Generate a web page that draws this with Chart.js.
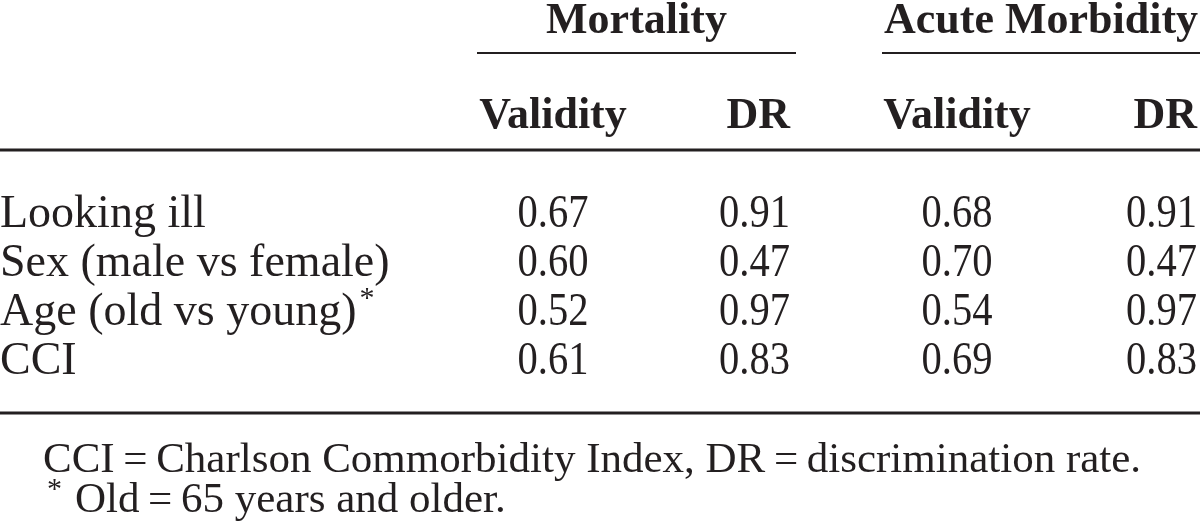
<!DOCTYPE html>
<html>
<head>
<meta charset="utf-8">
<script src="https://cdn.jsdelivr.net/npm/chart.js@4"></script>
<style>
  html, body { margin: 0; padding: 0; background: #fff; }
  #wrap { width: 1200px; height: 531px; position: relative; }
</style>
</head>
<body>
<div id="wrap"><canvas id="table-chart"></canvas></div>
<script>
// table content
const groupHeaders = ['Mortality', 'Acute Morbidity'];
const columnHeaders = ['Validity', 'DR', 'Validity', 'DR'];
const rowLabels = ['Looking ill', 'Sex (male vs female)', 'Age (old vs young)', 'CCI'];
const rowMarks = ['', '', '*', ''];
const mortalityValidity = [0.67, 0.60, 0.52, 0.61];
const mortalityDR = [0.91, 0.47, 0.97, 0.83];
const acuteValidity = [0.68, 0.70, 0.54, 0.69];
const acuteDR = [0.91, 0.47, 0.97, 0.83];
const footnotes = [
    { mark: '', text: 'CCI\u2009=\u2009Charlson Commorbidity Index, DR\u2009=\u2009discrimination rate.' },
    { mark: '*', text: 'Old\u2009=\u200965 years and older.' },
];

const ink = '#231f20';
const serif = '"Liberation Serif", "Times New Roman", serif';

// layout in scale units (x 0..1200, y 0..531 top-down)
const cols = [
    { x: 553, align: 'center' },
    { x: 790, align: 'right' },
    { x: 957, align: 'center' },
    { x: 1197, align: 'right' },
];
const groupSpans = [[477, 796], [882, 1200]];
const headerY = 33;
const groupRuleY = 53;
const subHeaderY = 128;
const topRuleY = 150;
const rowY = [227, 276, 325, 374];
const bottomRuleY = 413;
const footY = [472, 512];

const columns = [mortalityValidity, mortalityDR, acuteValidity, acuteDR];

const tablePlugin = {
    id: 'tableText',
    afterDraw(chart) {
        const { ctx } = chart;
        const sx = chart.scales.x;
        const sy = chart.scales.y;
        const px = (v) => sx.getPixelForValue(v);
        const py = (v) => sy.getPixelForValue(v);

        ctx.save();
        ctx.fillStyle = ink;
        ctx.strokeStyle = ink;
        ctx.textBaseline = 'alphabetic';

        // group headers with their rules
        ctx.font = `bold 44px ${serif}`;
        ctx.textAlign = 'center';
        groupHeaders.forEach((h, i) => {
            const [a, b] = groupSpans[i];
            ctx.fillText(h, px((a + b) / 2), py(headerY));
            ctx.lineWidth = 2;
            ctx.beginPath();
            ctx.moveTo(px(a), py(groupRuleY));
            ctx.lineTo(px(b), py(groupRuleY));
            ctx.stroke();
        });

        // column headers
        columnHeaders.forEach((h, i) => {
            ctx.textAlign = cols[i].align;
            ctx.fillText(h, px(cols[i].x), py(subHeaderY));
        });

        // full width rules
        ctx.lineWidth = 3;
        [topRuleY, bottomRuleY].forEach((y) => {
            ctx.beginPath();
            ctx.moveTo(px(0), py(y));
            ctx.lineTo(px(1200), py(y));
            ctx.stroke();
        });

        // body
        rowLabels.forEach((label, r) => {
            ctx.textAlign = 'left';
            ctx.font = `46px ${serif}`;
            ctx.fillText(label, px(0), py(rowY[r]));
            if (rowMarks[r]) {
                const w = ctx.measureText(label).width;
                ctx.font = `30px ${serif}`;
                ctx.fillText(rowMarks[r], px(0) + w + 3, py(rowY[r] - 18));
                ctx.font = `46px ${serif}`;
            }
            columns.forEach((vals, c) => {
                ctx.textAlign = cols[c].align;
                ctx.fillText(vals[r].toFixed(2), px(cols[c].x), py(rowY[r]), 71);
            });
        });

        // footnotes
        ctx.textAlign = 'left';
        footnotes.forEach((f, i) => {
            if (f.mark) {
                ctx.font = `30px ${serif}`;
                ctx.fillText(f.mark, px(47), py(footY[i] - 14));
                ctx.font = `43px ${serif}`;
                ctx.fillText(f.text, px(75), py(footY[i]));
            } else {
                ctx.font = `43px ${serif}`;
                ctx.fillText(f.text, px(43), py(footY[i]));
            }
        });
        ctx.restore();
    },
};

new Chart(document.getElementById('table-chart'), {
    type: 'scatter',
    data: { datasets: [{ data: [], pointRadius: 0 }] },
    options: {
        responsive: true,
        maintainAspectRatio: false,
        animation: false,
        devicePixelRatio: 1,
        layout: { padding: 0 },
        plugins: { legend: { display: false }, tooltip: { enabled: false } },
        scales: {
            x: { type: 'linear', min: 0, max: 1200, display: false },
            y: { type: 'linear', min: 0, max: 531, reverse: true, display: false },
        },
    },
    plugins: [tablePlugin],
});
</script>
</body>
</html>
